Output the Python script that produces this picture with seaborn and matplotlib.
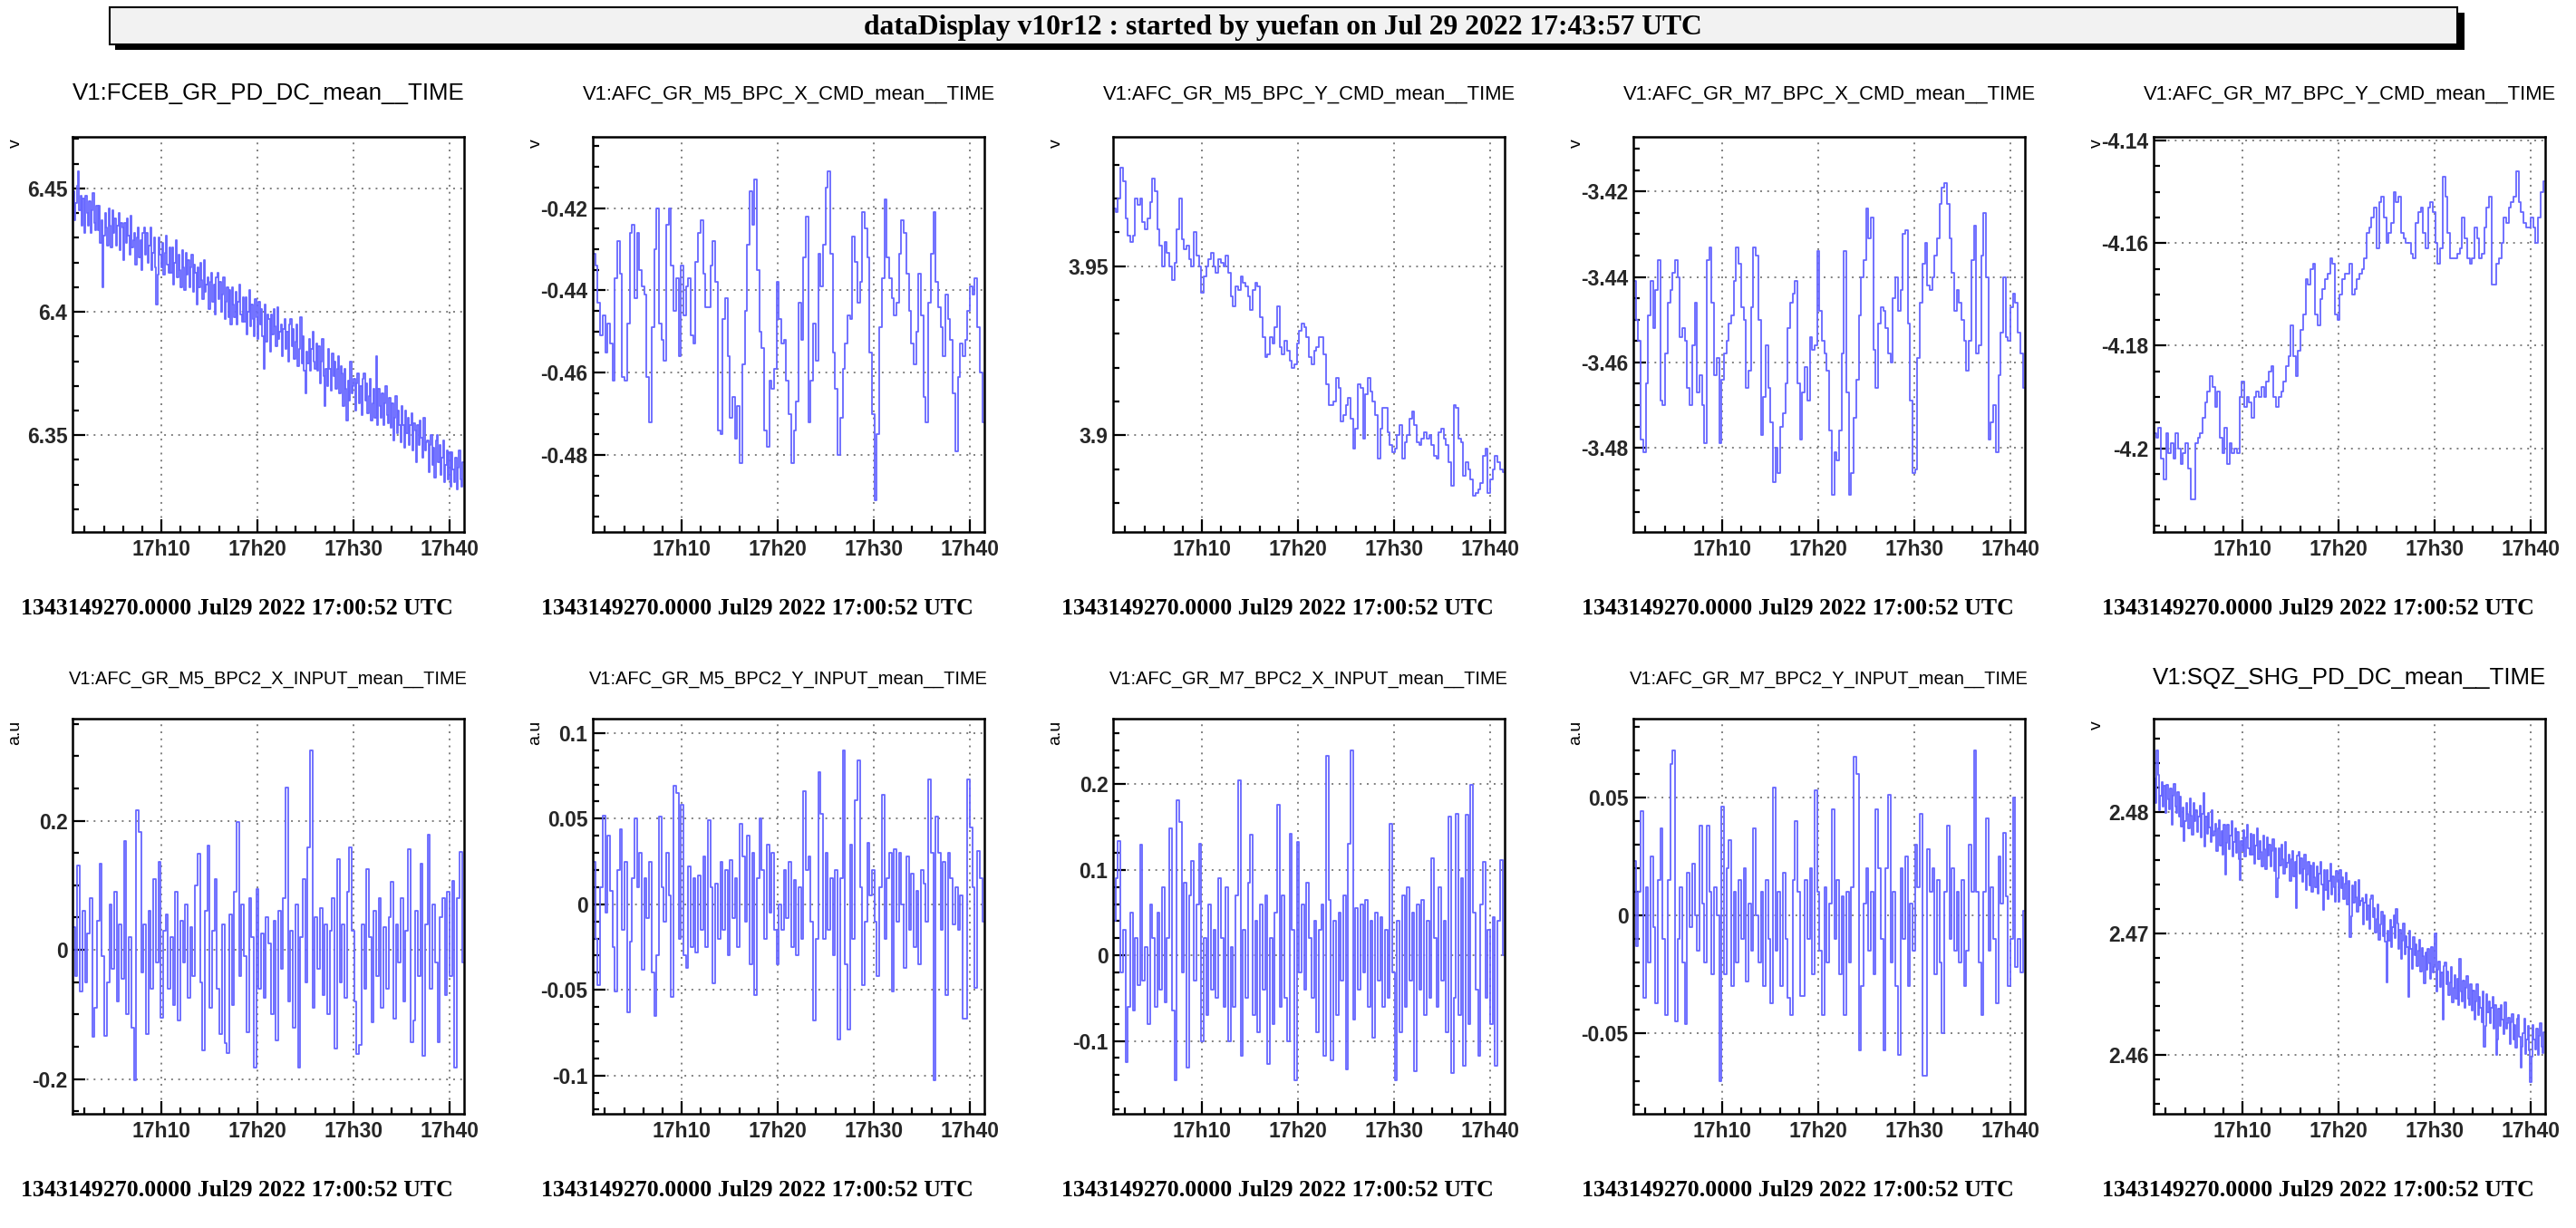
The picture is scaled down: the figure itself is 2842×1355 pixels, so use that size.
import numpy as np
import pandas as pd
import matplotlib
matplotlib.use("Agg")
import matplotlib.pyplot as plt
import seaborn as sns
from matplotlib.ticker import FixedLocator, MultipleLocator, FuncFormatter
from matplotlib.patches import Rectangle

# ---------------- data (minutes after 17:00 UTC, evenly sampled) -------------
start_minute = 0.87
end_minute = 41.42

fceb_gr_pd_dc = [
    6.449, 6.437, 6.444, 6.451, 6.457, 6.441, 6.447, 6.435, 6.446, 6.432, 6.447, 6.440, 6.435, 6.445, 6.432, 6.441, 6.448, 6.436, 6.433, 6.443,
    6.433, 6.443, 6.428, 6.437, 6.410, 6.431, 6.440, 6.434, 6.427, 6.442, 6.435, 6.426, 6.441, 6.432, 6.438, 6.427, 6.435, 6.440, 6.425, 6.436,
    6.434, 6.421, 6.436, 6.428, 6.438, 6.431, 6.423, 6.439, 6.426, 6.429, 6.432, 6.419, 6.430, 6.434, 6.422, 6.429, 6.417, 6.432, 6.434, 6.423,
    6.432, 6.420, 6.427, 6.434, 6.417, 6.424, 6.430, 6.418, 6.403, 6.415, 6.430, 6.423, 6.418, 6.428, 6.415, 6.424, 6.431, 6.419, 6.416, 6.426,
    6.416, 6.426, 6.411, 6.420, 6.429, 6.414, 6.423, 6.417, 6.410, 6.425, 6.418, 6.409, 6.424, 6.415, 6.421, 6.410, 6.418, 6.423, 6.408, 6.419,
    6.416, 6.403, 6.418, 6.410, 6.420, 6.413, 6.405, 6.421, 6.408, 6.411, 6.414, 6.401, 6.412, 6.416, 6.404, 6.411, 6.399, 6.414, 6.416, 6.405,
    6.412, 6.400, 6.407, 6.414, 6.397, 6.404, 6.410, 6.398, 6.409, 6.395, 6.410, 6.403, 6.398, 6.408, 6.395, 6.404, 6.411, 6.399, 6.396, 6.406,
    6.396, 6.406, 6.391, 6.400, 6.409, 6.394, 6.403, 6.397, 6.390, 6.405, 6.398, 6.389, 6.404, 6.395, 6.401, 6.390, 6.377, 6.403, 6.388, 6.399,
    6.397, 6.384, 6.399, 6.391, 6.401, 6.394, 6.386, 6.402, 6.389, 6.392, 6.395, 6.382, 6.393, 6.397, 6.385, 6.392, 6.380, 6.395, 6.397, 6.386,
    6.393, 6.381, 6.388, 6.395, 6.378, 6.385, 6.398, 6.379, 6.390, 6.376, 6.367, 6.384, 6.379, 6.389, 6.376, 6.385, 6.392, 6.380, 6.377, 6.387,
    6.376, 6.386, 6.371, 6.380, 6.389, 6.374, 6.362, 6.377, 6.370, 6.385, 6.377, 6.368, 6.383, 6.374, 6.380, 6.369, 6.377, 6.382, 6.367, 6.378,
    6.375, 6.362, 6.377, 6.369, 6.356, 6.372, 6.364, 6.380, 6.367, 6.370, 6.373, 6.360, 6.371, 6.375, 6.363, 6.370, 6.358, 6.373, 6.375, 6.364,
    6.371, 6.359, 6.366, 6.373, 6.356, 6.363, 6.369, 6.357, 6.382, 6.354, 6.369, 6.362, 6.357, 6.367, 6.354, 6.363, 6.370, 6.358, 6.355, 6.365,
    6.353, 6.363, 6.348, 6.357, 6.366, 6.351, 6.360, 6.354, 6.347, 6.362, 6.354, 6.345, 6.360, 6.351, 6.357, 6.346, 6.354, 6.359, 6.344, 6.355,
    6.352, 6.339, 6.354, 6.346, 6.356, 6.349, 6.341, 6.357, 6.344, 6.347, 6.348, 6.335, 6.346, 6.350, 6.338, 6.345, 6.333, 6.348, 6.350, 6.339,
    6.346, 6.334, 6.341, 6.348, 6.331, 6.338, 6.344, 6.332, 6.343, 6.329, 6.343, 6.336, 6.331, 6.341, 6.328, 6.337, 6.344, 6.332, 6.329, 6.339,
]

m5_bpc_x_cmd = [
    -0.431, -0.434, -0.443, -0.451, -0.446, -0.455, -0.448, -0.453, -0.462, -0.437,
    -0.428, -0.436, -0.461, -0.462, -0.448, -0.426, -0.424, -0.442, -0.426, -0.435,
    -0.439, -0.441, -0.461, -0.472, -0.449, -0.430, -0.420, -0.448, -0.452, -0.457,
    -0.424, -0.420, -0.434, -0.445, -0.437, -0.456, -0.434, -0.446, -0.439, -0.437,
    -0.451, -0.453, -0.433, -0.426, -0.423, -0.436, -0.444, -0.444, -0.434, -0.428,
    -0.438, -0.474, -0.475, -0.447, -0.442, -0.456, -0.471, -0.466, -0.476, -0.468,
    -0.482, -0.458, -0.445, -0.429, -0.416, -0.424, -0.413, -0.435, -0.450, -0.454,
    -0.474, -0.478, -0.462, -0.464, -0.459, -0.438, -0.447, -0.453, -0.452, -0.462,
    -0.470, -0.482, -0.474, -0.467, -0.443, -0.452, -0.432, -0.422, -0.472, -0.462,
    -0.448, -0.457, -0.431, -0.439, -0.429, -0.415, -0.411, -0.431, -0.455, -0.464,
    -0.480, -0.471, -0.459, -0.453, -0.446, -0.447, -0.427, -0.433, -0.443, -0.438,
    -0.421, -0.425, -0.432, -0.455, -0.470, -0.491, -0.475, -0.449, -0.437, -0.418,
    -0.432, -0.437, -0.442, -0.446, -0.443, -0.431, -0.423, -0.426, -0.436, -0.445,
    -0.453, -0.458, -0.450, -0.436, -0.446, -0.466, -0.472, -0.443, -0.431, -0.421,
    -0.438, -0.444, -0.449, -0.456, -0.441, -0.447, -0.452, -0.465, -0.479, -0.461,
    -0.453, -0.456, -0.452, -0.445, -0.439, -0.441, -0.437, -0.449, -0.460, -0.472,
]

m5_bpc_y_cmd = [
    3.967, 3.966, 3.970, 3.979, 3.975, 3.964, 3.959, 3.957, 3.959, 3.970,
    3.968, 3.970, 3.963, 3.961, 3.964, 3.969, 3.976, 3.972, 3.961, 3.956,
    3.950, 3.957, 3.954, 3.950, 3.946, 3.951, 3.961, 3.970, 3.958, 3.955,
    3.956, 3.952, 3.950, 3.960, 3.953, 3.950, 3.942, 3.947, 3.950, 3.952,
    3.954, 3.950, 3.948, 3.952, 3.951, 3.950, 3.953, 3.948, 3.941, 3.938,
    3.944, 3.943, 3.947, 3.945, 3.944, 3.941, 3.937, 3.943, 3.945, 3.944,
    3.935, 3.929, 3.923, 3.924, 3.929, 3.927, 3.932, 3.938, 3.926, 3.924,
    3.928, 3.925, 3.922, 3.920, 3.921, 3.927, 3.931, 3.933, 3.932, 3.929,
    3.923, 3.921, 3.925, 3.926, 3.929, 3.929, 3.924, 3.915, 3.909, 3.909,
    3.910, 3.917, 3.914, 3.904, 3.906, 3.909, 3.911, 3.905, 3.896, 3.902,
    3.915, 3.914, 3.899, 3.912, 3.917, 3.913, 3.910, 3.906, 3.893, 3.902,
    3.908, 3.908, 3.901, 3.897, 3.895, 3.896, 3.900, 3.903, 3.893, 3.898,
    3.900, 3.905, 3.907, 3.903, 3.898, 3.897, 3.899, 3.901, 3.899, 3.900,
    3.897, 3.894, 3.893, 3.901, 3.902, 3.899, 3.897, 3.892, 3.885, 3.909,
    3.908, 3.899, 3.898, 3.888, 3.892, 3.890, 3.887, 3.882, 3.883, 3.884,
    3.886, 3.894, 3.896, 3.883, 3.887, 3.890, 3.894, 3.892, 3.890, 3.889,
]

m7_bpc_x_cmd = [
    -3.441, -3.450, -3.455, -3.478, -3.481, -3.465, -3.449, -3.441, -3.452, -3.443,
    -3.436, -3.469, -3.470, -3.458, -3.446, -3.443, -3.439, -3.436, -3.440, -3.454,
    -3.452, -3.455, -3.466, -3.470, -3.456, -3.446, -3.467, -3.463, -3.470, -3.479,
    -3.436, -3.433, -3.446, -3.463, -3.459, -3.479, -3.464, -3.458, -3.455, -3.451,
    -3.449, -3.441, -3.433, -3.437, -3.447, -3.450, -3.466, -3.462, -3.447, -3.433,
    -3.435, -3.450, -3.477, -3.468, -3.456, -3.466, -3.474, -3.488, -3.480, -3.486,
    -3.475, -3.472, -3.465, -3.452, -3.446, -3.444, -3.441, -3.465, -3.478, -3.467,
    -3.461, -3.469, -3.454, -3.457, -3.456, -3.434, -3.448, -3.455, -3.458, -3.462,
    -3.476, -3.491, -3.481, -3.483, -3.476, -3.458, -3.434, -3.467, -3.491, -3.486,
    -3.473, -3.464, -3.449, -3.440, -3.436, -3.424, -3.431, -3.426, -3.457, -3.466,
    -3.451, -3.447, -3.448, -3.452, -3.458, -3.460, -3.445, -3.440, -3.448, -3.443,
    -3.430, -3.429, -3.451, -3.469, -3.486, -3.485, -3.459, -3.446, -3.437, -3.432,
    -3.442, -3.443, -3.440, -3.435, -3.431, -3.423, -3.419, -3.418, -3.423, -3.431,
    -3.439, -3.448, -3.443, -3.446, -3.450, -3.455, -3.462, -3.455, -3.436, -3.428,
    -3.458, -3.456, -3.435, -3.425, -3.440, -3.478, -3.474, -3.470, -3.481, -3.463,
    -3.453, -3.440, -3.454, -3.455, -3.447, -3.444, -3.446, -3.453, -3.458, -3.466,
]

m7_bpc_y_cmd = [
    -4.197, -4.198, -4.196, -4.202, -4.206, -4.197, -4.201, -4.199, -4.202, -4.197,
    -4.200, -4.203, -4.201, -4.199, -4.204, -4.210, -4.210, -4.199, -4.198, -4.197,
    -4.194, -4.191, -4.189, -4.186, -4.188, -4.192, -4.189, -4.198, -4.201, -4.196,
    -4.203, -4.199, -4.201, -4.200, -4.201, -4.190, -4.187, -4.192, -4.190, -4.191,
    -4.194, -4.190, -4.189, -4.190, -4.188, -4.190, -4.187, -4.185, -4.184, -4.190,
    -4.192, -4.190, -4.189, -4.187, -4.184, -4.182, -4.176, -4.182, -4.186, -4.181,
    -4.177, -4.174, -4.167, -4.168, -4.165, -4.164, -4.174, -4.176, -4.171, -4.169,
    -4.167, -4.166, -4.163, -4.164, -4.174, -4.175, -4.170, -4.167, -4.166, -4.166,
    -4.164, -4.170, -4.169, -4.167, -4.166, -4.165, -4.163, -4.158, -4.157, -4.155,
    -4.153, -4.161, -4.152, -4.151, -4.155, -4.160, -4.158, -4.156, -4.150, -4.152,
    -4.151, -4.158, -4.159, -4.160, -4.160, -4.162, -4.163, -4.156, -4.154, -4.153,
    -4.158, -4.161, -4.153, -4.152, -4.154, -4.160, -4.164, -4.161, -4.147, -4.151,
    -4.158, -4.163, -4.163, -4.163, -4.162, -4.161, -4.155, -4.159, -4.163, -4.164,
    -4.163, -4.157, -4.159, -4.163, -4.162, -4.157, -4.153, -4.151, -4.168, -4.168,
    -4.164, -4.163, -4.160, -4.155, -4.156, -4.153, -4.152, -4.151, -4.146, -4.152,
    -4.154, -4.156, -4.157, -4.157, -4.155, -4.157, -4.160, -4.155, -4.150, -4.148,
]

m5_bpc2_x_input = [
    0.035, -0.040, 0.130, -0.065, 0.060, -0.050, 0.025, 0.080, -0.135, -0.090,
    0.045, 0.133, -0.010, -0.133, -0.050, 0.070, -0.030, 0.090, -0.080, 0.040,
    -0.045, 0.169, -0.100, 0.020, -0.120, -0.202, 0.216, 0.182, -0.035, 0.040,
    -0.130, 0.060, -0.060, 0.110, -0.020, 0.136, -0.105, 0.030, 0.055, -0.060,
    0.020, -0.085, 0.090, -0.110, 0.045, -0.020, 0.070, -0.075, 0.035, -0.040,
    0.100, 0.149, -0.050, -0.156, 0.060, 0.162, -0.090, 0.030, 0.110, -0.060,
    -0.130, 0.040, -0.145, -0.160, 0.055, -0.085, 0.090, 0.198, -0.040, 0.070,
    -0.010, -0.127, 0.080, 0.020, -0.182, 0.094, -0.060, 0.025, -0.075, 0.050,
    0.010, -0.100, 0.045, -0.140, 0.060, -0.030, 0.080, 0.252, -0.080, 0.030,
    -0.120, 0.070, -0.182, 0.020, 0.110, -0.050, 0.159, 0.309, -0.090, 0.050,
    -0.030, 0.065, -0.070, 0.040, -0.100, 0.030, 0.080, -0.153, 0.141, -0.050,
    0.040, -0.075, 0.090, 0.159, 0.030, -0.080, -0.161, -0.148, 0.040, -0.060,
    0.125, 0.020, -0.112, 0.060, -0.040, 0.080, -0.090, 0.035, -0.060, 0.050,
    0.105, -0.107, 0.040, -0.020, 0.080, -0.080, 0.030, 0.156, -0.143, -0.110,
    0.060, -0.040, 0.133, -0.164, 0.040, 0.178, -0.060, 0.070, -0.020, -0.143,
    0.050, 0.080, -0.070, 0.090, -0.040, 0.107, -0.182, 0.080, 0.151, -0.020,
]

m5_bpc2_y_input = [
    0.025, -0.020, -0.047, 0.010, 0.052, -0.005, 0.040, 0.008, -0.025, -0.051,
    0.020, 0.044, -0.015, 0.025, -0.063, -0.022, 0.015, 0.050, 0.010, 0.030,
    -0.038, 0.015, -0.008, 0.025, -0.040, -0.065, -0.030, 0.051, 0.010, -0.010,
    0.030, 0.005, -0.054, 0.069, 0.065, -0.020, 0.058, -0.030, -0.037, 0.022,
    -0.025, 0.015, -0.028, 0.017, -0.015, 0.028, -0.025, 0.049, 0.010, -0.046,
    0.012, -0.020, 0.025, -0.015, 0.020, -0.030, 0.026, -0.008, 0.015, -0.025,
    0.047, 0.028, -0.010, 0.040, -0.035, 0.030, -0.053, 0.015, 0.050, 0.020,
    -0.020, 0.035, -0.005, 0.030, -0.015, -0.035, 0.000, -0.015, 0.020, -0.008,
    0.025, -0.025, 0.014, -0.030, 0.010, -0.020, 0.066, 0.020, 0.028, -0.010,
    -0.068, -0.020, 0.077, 0.053, -0.020, 0.030, -0.015, 0.015, -0.030, 0.020,
    -0.079, 0.015, 0.090, -0.035, -0.073, 0.035, -0.020, 0.061, 0.084, 0.010,
    -0.047, -0.010, 0.036, 0.005, 0.020, -0.010, -0.042, 0.010, 0.064, -0.020,
    0.015, 0.030, -0.051, 0.032, -0.010, 0.030, 0.000, -0.037, 0.028, -0.015,
    0.018, -0.025, 0.008, -0.035, 0.020, 0.012, -0.010, 0.073, 0.030, -0.103,
    0.051, 0.030, -0.015, 0.025, -0.053, 0.030, 0.015, -0.012, 0.010, -0.015,
    0.005, -0.067, -0.067, 0.073, 0.045, 0.010, -0.049, 0.031, 0.015, -0.010,
]

m7_bpc2_x_input = [
    0.040, 0.090, 0.134, -0.020, 0.030, -0.125, -0.060, 0.050, -0.065, 0.020,
    -0.035, 0.129, -0.030, 0.010, -0.080, 0.060, 0.020, -0.060, 0.050, -0.040,
    0.080, -0.055, 0.020, 0.148, -0.065, -0.146, 0.181, 0.156, -0.020, 0.085,
    -0.131, 0.070, 0.110, -0.030, 0.060, 0.130, -0.100, 0.020, -0.070, 0.060,
    -0.040, 0.030, -0.050, 0.090, 0.020, -0.060, 0.080, -0.100, 0.010, -0.060,
    0.070, 0.205, -0.117, 0.030, -0.050, 0.085, 0.141, -0.070, 0.040, -0.090,
    0.060, -0.040, 0.070, -0.127, 0.020, -0.080, 0.050, 0.176, -0.060, 0.070,
    -0.050, -0.100, 0.142, 0.030, -0.146, 0.133, -0.020, 0.060, -0.040, 0.085,
    0.020, -0.050, 0.040, -0.090, 0.030, 0.060, -0.117, 0.233, 0.065, -0.123,
    0.040, -0.070, 0.050, -0.030, 0.070, -0.133, 0.131, 0.240, -0.075, 0.055,
    -0.040, 0.060, -0.020, 0.065, -0.060, 0.040, -0.096, 0.050, -0.030, 0.045,
    -0.060, 0.030, -0.050, 0.154, -0.020, -0.146, 0.040, -0.090, 0.070, -0.060,
    0.080, -0.030, 0.050, -0.135, 0.060, -0.040, 0.065, -0.070, 0.040, -0.050,
    0.113, 0.020, -0.060, 0.080, -0.030, 0.040, -0.090, 0.162, -0.138, -0.050,
    0.165, -0.070, 0.090, -0.129, 0.164, -0.080, 0.199, 0.050, -0.040, -0.117,
    0.060, 0.109, -0.050, 0.030, -0.080, 0.045, -0.129, 0.040, 0.111, 0.000,
]

m7_bpc2_y_input = [
    0.023, -0.013, 0.010, 0.044, -0.035, 0.012, -0.020, 0.025, -0.005, -0.037,
    0.015, 0.037, -0.010, -0.042, 0.015, 0.064, 0.070, -0.045, -0.010, 0.012,
    -0.020, -0.046, 0.018, -0.005, 0.022, 0.000, -0.015, 0.038, 0.005, -0.020,
    0.038, 0.010, -0.025, 0.012, 0.000, -0.070, 0.046, -0.025, 0.020, 0.032,
    -0.030, 0.010, -0.020, 0.015, -0.010, 0.020, -0.028, 0.005, -0.015, 0.037,
    0.000, -0.020, 0.010, -0.030, 0.015, -0.010, -0.037, 0.054, -0.015, 0.010,
    -0.030, 0.018, -0.010, -0.035, -0.042, 0.015, 0.040, 0.010, -0.034, -0.034,
    0.015, -0.010, 0.020, -0.025, 0.053, 0.010, -0.015, -0.042, 0.012, -0.020,
    0.005, 0.045, -0.010, 0.015, -0.025, 0.008, -0.042, 0.010, -0.020, 0.012,
    0.067, 0.060, -0.057, -0.030, 0.005, 0.020, -0.015, 0.010, -0.025, 0.045,
    0.020, -0.010, -0.057, 0.020, 0.051, -0.020, 0.010, -0.030, -0.059, 0.020,
    -0.010, 0.025, -0.030, 0.005, -0.015, 0.030, 0.012, 0.043, -0.068, -0.068,
    0.028, 0.010, 0.020, -0.025, 0.015, -0.020, -0.050, 0.010, 0.038, -0.010,
    0.020, -0.015, 0.010, -0.020, 0.015, -0.030, -0.015, 0.030, 0.010, 0.070,
    0.010, -0.020, -0.042, 0.010, 0.041, -0.015, 0.012, -0.010, -0.037, 0.025,
    0.005, 0.035, 0.008, -0.030, -0.010, 0.050, -0.022, -0.010, -0.024, 0.002,
]

sqz_shg_pd_dc = [
    2.4827, 2.4807, 2.4850, 2.4830, 2.4801, 2.4813, 2.4824, 2.4804, 2.4821, 2.4799, 2.4822, 2.4810, 2.4802, 2.4819, 2.4789, 2.4813, 2.4823, 2.4804, 2.4799, 2.4816,
    2.4796, 2.4812, 2.4788, 2.4803, 2.4776, 2.4792, 2.4807, 2.4798, 2.4786, 2.4811, 2.4797, 2.4781, 2.4807, 2.4792, 2.4801, 2.4783, 2.4796, 2.4805, 2.4779, 2.4798,
    2.4815, 2.4771, 2.4796, 2.4782, 2.4799, 2.4787, 2.4775, 2.4801, 2.4780, 2.4784, 2.4790, 2.4768, 2.4786, 2.4793, 2.4772, 2.4784, 2.4765, 2.4789, 2.4748, 2.4774,
    2.4789, 2.4769, 2.4780, 2.4792, 2.4763, 2.4775, 2.4786, 2.4766, 2.4783, 2.4761, 2.4744, 2.4776, 2.4768, 2.4785, 2.4763, 2.4779, 2.4789, 2.4770, 2.4765, 2.4782,
    2.4765, 2.4781, 2.4757, 2.4772, 2.4786, 2.4761, 2.4776, 2.4767, 2.4755, 2.4780, 2.4769, 2.4753, 2.4779, 2.4764, 2.4773, 2.4755, 2.4768, 2.4777, 2.4751, 2.4770,
    2.4730, 2.4745, 2.4770, 2.4756, 2.4773, 2.4761, 2.4749, 2.4775, 2.4754, 2.4758, 2.4765, 2.4743, 2.4761, 2.4768, 2.4747, 2.4759, 2.4721, 2.4764, 2.4767, 2.4749,
    2.4762, 2.4742, 2.4753, 2.4765, 2.4736, 2.4748, 2.4759, 2.4739, 2.4756, 2.4734, 2.4758, 2.4746, 2.4738, 2.4755, 2.4733, 2.4749, 2.4759, 2.4740, 2.4719, 2.4752,
    2.4736, 2.4752, 2.4728, 2.4743, 2.4757, 2.4732, 2.4747, 2.4738, 2.4726, 2.4751, 2.4742, 2.4726, 2.4752, 2.4737, 2.4746, 2.4728, 2.4741, 2.4750, 2.4724, 2.4743,
    2.4697, 2.4714, 2.4739, 2.4725, 2.4742, 2.4730, 2.4718, 2.4744, 2.4723, 2.4727, 2.4729, 2.4707, 2.4725, 2.4732, 2.4711, 2.4723, 2.4704, 2.4728, 2.4731, 2.4713,
    2.4721, 2.4701, 2.4712, 2.4724, 2.4695, 2.4707, 2.4718, 2.4698, 2.4715, 2.4693, 2.4660, 2.4702, 2.4694, 2.4711, 2.4689, 2.4705, 2.4715, 2.4696, 2.4720, 2.4708,
    2.4687, 2.4703, 2.4679, 2.4694, 2.4708, 2.4683, 2.4698, 2.4689, 2.4648, 2.4702, 2.4687, 2.4671, 2.4697, 2.4682, 2.4691, 2.4673, 2.4686, 2.4695, 2.4669, 2.4688,
    2.4681, 2.4659, 2.4684, 2.4670, 2.4687, 2.4675, 2.4663, 2.4689, 2.4668, 2.4672, 2.4700, 2.4652, 2.4670, 2.4677, 2.4656, 2.4668, 2.4629, 2.4673, 2.4676, 2.4658,
    2.4669, 2.4649, 2.4660, 2.4672, 2.4643, 2.4655, 2.4666, 2.4646, 2.4663, 2.4641, 2.4679, 2.4652, 2.4644, 2.4661, 2.4639, 2.4655, 2.4665, 2.4646, 2.4641, 2.4658,
    2.4637, 2.4653, 2.4629, 2.4644, 2.4658, 2.4633, 2.4648, 2.4639, 2.4627, 2.4652, 2.4607, 2.4624, 2.4650, 2.4635, 2.4644, 2.4626, 2.4639, 2.4648, 2.4622, 2.4641,
    2.4600, 2.4613, 2.4638, 2.4624, 2.4641, 2.4629, 2.4617, 2.4643, 2.4622, 2.4626, 2.4631, 2.4609, 2.4627, 2.4634, 2.4613, 2.4625, 2.4606, 2.4630, 2.4633, 2.4615,
    2.4590, 2.4607, 2.4618, 2.4630, 2.4601, 2.4613, 2.4624, 2.4604, 2.4578, 2.4599, 2.4625, 2.4613, 2.4605, 2.4622, 2.4600, 2.4616, 2.4626, 2.4607, 2.4602, 2.4619,
]

channel_names = [
    "V1:FCEB_GR_PD_DC_mean__TIME",
    "V1:AFC_GR_M5_BPC_X_CMD_mean__TIME",
    "V1:AFC_GR_M5_BPC_Y_CMD_mean__TIME",
    "V1:AFC_GR_M7_BPC_X_CMD_mean__TIME",
    "V1:AFC_GR_M7_BPC_Y_CMD_mean__TIME",
    "V1:AFC_GR_M5_BPC2_X_INPUT_mean__TIME",
    "V1:AFC_GR_M5_BPC2_Y_INPUT_mean__TIME",
    "V1:AFC_GR_M7_BPC2_X_INPUT_mean__TIME",
    "V1:AFC_GR_M7_BPC2_Y_INPUT_mean__TIME",
    "V1:SQZ_SHG_PD_DC_mean__TIME",
]
channel_units = ["v", "v", "v", "v", "v", "a.u", "a.u", "a.u", "a.u", "v"]
series = [fceb_gr_pd_dc, m5_bpc_x_cmd, m5_bpc_y_cmd, m7_bpc_x_cmd, m7_bpc_y_cmd,
          m5_bpc2_x_input, m5_bpc2_y_input, m7_bpc2_x_input, m7_bpc2_y_input, sqz_shg_pd_dc]
y_ranges = [(6.3108, 6.4709), (-0.4987, -0.4027), (3.8714, 3.9882), (-3.4997, -3.4072),
            (-4.2163, -4.1393), (-0.254, 0.358), (-0.1224, 0.1084), (-0.1853, 0.2767),
            (-0.084, 0.0833), (2.45518, 2.48763)]
y_major = [0.05, 0.02, 0.05, 0.02, 0.02, 0.2, 0.05, 0.1, 0.05, 0.01]
y_minor = [0.01, 0.005, 0.01, 0.005, 0.005, 0.05, 0.01, 0.02, 0.01, 0.002]
time_ticks = [10, 20, 30, 40]
time_tick_labels = ["17h10", "17h20", "17h30", "17h40"]
x_range = (0.74, 41.52)
header_text = "dataDisplay v10r12 : started by yuefan on Jul 29 2022 17:43:57 UTC"
offset_text = "1343149270.0000 Jul29 2022 17:00:52 UTC"

# ---------------- style -------------
sns.set_style("white")
plt.rcParams['font.family'] = ['Liberation Sans', 'DejaVu Sans']
plt.rcParams['font.weight'] = 'bold'
plt.rcParams['axes.unicode_minus'] = False

W, H = 2842, 1355
fig = plt.figure(figsize=(W / 100, H / 100), dpi=100)
renderer = fig.canvas.get_renderer()

LINE = '#6666ff'
col_left = [80, 654, 1228, 1802, 2376]
row_top = [151, 793]
AX_W, AX_H = 432, 436


def fx(x):
    return x / W


def fy(y):
    return 1 - y / H


def fit(txt, target):
    w = txt.get_window_extent(renderer).width
    txt.set_fontsize(txt.get_fontsize() * target / w)


def fmt_val(v, pos=None):
    v = round(v, 6)
    if abs(v) < 1e-9:
        return "0"
    return f"{v:g}"


def fmt_time(v, pos=None):
    m = int(round(v))
    return time_tick_labels[time_ticks.index(m)] if m in time_ticks else ""


title_widths = [435, 456, 456, 456, 456, 440, 440, 440, 440, 435]

for k in range(10):
    r, c = divmod(k, 5)
    left, top = col_left[c], row_top[r]
    ax = fig.add_axes([fx(left), fy(top + AX_H), AX_W / W, AX_H / H])
    vals = series[k]
    times = np.linspace(start_minute, end_minute, len(vals))
    df = pd.DataFrame({"minute": times, "value": vals})
    ax.grid(True, which='major', color='#808080', linestyle=(0, (1.0, 3.0)), linewidth=1.4)
    ax.set_axisbelow(True)
    sns.lineplot(data=df, x="minute", y="value", ax=ax, color=LINE, linewidth=1.3,
                 drawstyle='steps-mid', estimator=None, legend=False)
    ax.set_xlim(*x_range)
    ax.set_ylim(*y_ranges[k])
    ax.set_xlabel("")
    ax.set_ylabel("")
    ax.xaxis.set_major_locator(FixedLocator(time_ticks))
    ax.xaxis.set_major_formatter(FuncFormatter(fmt_time))
    ax.xaxis.set_minor_locator(MultipleLocator(2))
    ax.yaxis.set_major_locator(MultipleLocator(y_major[k]))
    ax.yaxis.set_minor_locator(MultipleLocator(y_minor[k]))
    ax.yaxis.set_major_formatter(FuncFormatter(fmt_val))
    ax.tick_params(which='both', direction='in', top=False, right=False, bottom=True, left=True,
                   width=1.6, color='black')
    ax.tick_params(which='major', length=10, labelsize=16.5)
    ax.tick_params(which='minor', length=5)
    ax.tick_params(axis='x', which='major', pad=6)
    ax.tick_params(axis='y', which='major', pad=4)
    for lab in ax.get_xticklabels() + ax.get_yticklabels():
        lab.set_fontweight('bold')
    for s in ax.spines.values():
        s.set_visible(True)
        s.set_color('black')
        s.set_linewidth(1.8)

    # unit label, rotated at the top of the y axis
    ax.text(-63 / AX_W, 1 - 2 / AX_H, channel_units[k], rotation=90, ha='center', va='top',
            transform=ax.transAxes, fontsize=14, fontweight='normal', color='black')

    cx = left + AX_W / 2
    base_title = 110 if r == 0 else 755
    t = fig.text(fx(cx), fy(base_title), channel_names[k], ha='center', va='baseline',
                 fontsize=16, fontweight='normal', color='black')
    fit(t, title_widths[k])

    base_off = 678 if r == 0 else 1320
    b = fig.text(fx(left - 56 + 475 / 2), fy(base_off), offset_text, ha='center', va='baseline',
                 fontsize=16, fontweight='bold', family=['Liberation Serif', 'DejaVu Serif'],
                 color='black')
    fit(b, 475)

# header box with shadow
fig.patches.append(Rectangle((fx(127), fy(55)), (2719 - 127) / W, (55 - 14) / H,
                             transform=fig.transFigure, facecolor='black', edgecolor='none',
                             zorder=1))
fig.patches.append(Rectangle((fx(121), fy(49)), (2711 - 121) / W, (49 - 8) / H,
                             transform=fig.transFigure, facecolor='#f2f2f2', edgecolor='black',
                             linewidth=1.5, zorder=2))
ht = fig.text(fx(1415), fy(38), header_text, ha='center', va='baseline', fontsize=20,
              fontweight='bold', family=['Liberation Serif', 'DejaVu Serif'], color='black',
              zorder=3)
fit(ht, 926)

fig.savefig("out.png", dpi=100)
